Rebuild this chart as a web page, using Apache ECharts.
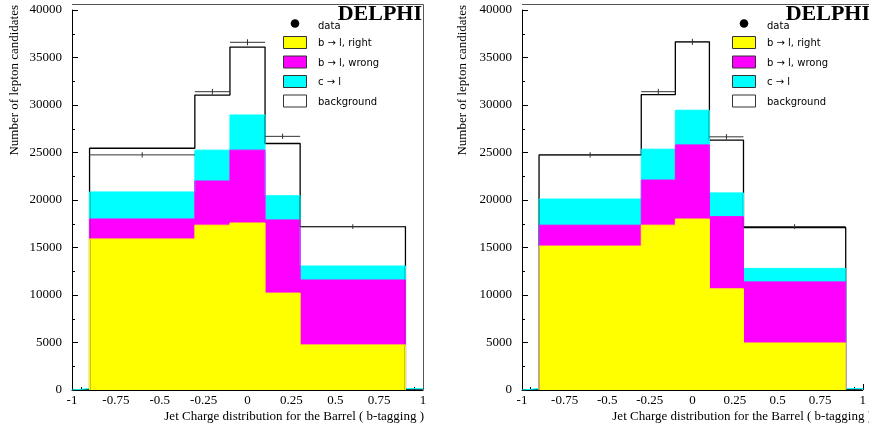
<!DOCTYPE html>
<html><head><meta charset="utf-8">
<script src="https://cdn.jsdelivr.net/npm/echarts@6/dist/echarts.min.js"></script>
<style>html,body{margin:0;padding:0;background:#fff}#c{width:869px;height:430px}</style>
</head><body><div id="c"></div>
<script>
// ---- data ----
const binEdges = [-1, -0.9, -0.3, -0.1, 0.1, 0.3, 0.9, 1];
const xTickLabels = ['-1','-0.75','-0.5','-0.25','0','0.25','0.5','0.75','1'];

// left panel (cumulative stack levels per bin)
const bgLeft      = [0,   25450, 31050, 36100, 25950, 17200, 0];
const cLeft       = [150, 20850, 25250, 28950, 20450, 13050, 150];
const bWrongLeft  = [null, 18000, 22000, 25250, 17900, 11580, null];
const bRightLeft  = [null, 15900, 17350, 17580, 10200, 4750,  null];
const dataLeft    = [null, 24750, 31400, 36600, 26700, 17200, null];
const errLeft     = [0, 280, 300, 320, 280, 250, 0];

// right panel
const bgRight     = [0,   24750, 31100, 36650, 26300, 17100, 0];
const cRight      = [150, 20100, 25350, 29450, 20750, 12800, 150];
const bWrongRight = [null, 17350, 22100, 25800, 18250, 11380, null];
const bRightRight = [null, 15150, 17350, 18000, 10650, 4950,  null];
const dataRight   = [null, 24750, 31400, 36650, 26650, 17200, null];
const errRight    = [0, 280, 300, 320, 280, 250, 0];

const legendLabels = ['data', 'b \u2192 l, right', 'b \u2192 l, wrong', 'c \u2192 l', 'background'];
const legendColors = ['#ffff00', '#ff00ff', '#00ffff', '#ffffff'];
const xTitle = 'Jet Charge distribution for the Barrel ( b-tagging )';
const yTitle = 'Number of lepton candidates';
const expName = 'DELPHI';

// ---- helpers ----
function stepOutline(vals) {
  const pts = vals.map((v, i) => [binEdges[i], v]);
  pts.push([binEdges[binEdges.length - 1], vals[vals.length - 1]]);
  return pts;
}
function stepFill(vals) {
  let f = 0, l = vals.length - 1;
  while (vals[f] == null) f++;
  while (vals[l] == null) l--;
  const pts = [[binEdges[f], 0]];
  for (let i = f; i <= l; i++) pts.push([binEdges[i], vals[i]]);
  pts.push([binEdges[l + 1], vals[l]]);
  pts.push([binEdges[l + 1], 0]);
  return pts;
}
function dataRows(vals, errs) {
  const rows = [];
  vals.forEach((v, i) => { if (v != null) rows.push([binEdges[i], binEdges[i + 1], v, errs[i]]); });
  return rows;
}
const serif = 'Liberation Serif, Times New Roman, serif';
const SERIES_COLORS = { yellow: '#ffff00', magenta: '#ff00ff', cyan: '#00ffff' };

const panels = [
  { left: 72,  textOff: 0,   bg: bgLeft,  c: cLeft,  w: bWrongLeft,  r: bRightLeft,  d: dataLeft,  e: errLeft },
  { left: 522, textOff: 448, bg: bgRight, c: cRight, w: bWrongRight, r: bRightRight, d: dataRight, e: errRight }
];
const GW = 351, GTOP = 10, GH = 380;

const grids = [], xAxes = [], yAxes = [], series = [], graphics = [];
panels.forEach((p, k) => {
  grids.push({ left: p.left, top: GTOP, width: GW, height: GH, containLabel: false });
  xAxes.push({
    type: 'value', gridIndex: k, min: -1, max: 1, interval: 0.25,
    axisLine: { show: true, onZero: false, lineStyle: { color: '#000', width: 1 } },
    axisTick: { show: true, inside: true, length: 6, lineStyle: { color: '#000' } },
    minorTick: { show: true, splitNumber: 5, length: 3, lineStyle: { color: '#000' } },
    splitLine: { show: false },
    axisLabel: { color: '#000', fontFamily: serif, fontSize: 13, margin: 4,
      formatter: (v) => { const i = Math.round((v + 1) / 0.25); return xTickLabels[i] || ''; } }
  });
  yAxes.push({
    type: 'value', gridIndex: k, min: 0, max: 40000, interval: 5000,
    axisLine: { show: true, onZero: false, lineStyle: { color: '#000', width: 1 } },
    axisTick: { show: true, inside: true, length: 6, lineStyle: { color: '#000' } },
    minorTick: { show: true, splitNumber: 2, length: 3, lineStyle: { color: '#000' } },
    splitLine: { show: false },
    axisLabel: { color: '#000', fontFamily: serif, fontSize: 13, margin: 10, formatter: (v) => String(v) }
  });
  const base = { type: 'line', step: 'end', xAxisIndex: k, yAxisIndex: k, symbol: 'none', silent: true, animation: false };
  series.push(Object.assign({}, base, { name: 'background' + k, data: stepOutline(p.bg),
    lineStyle: { color: '#000', width: 1.3 } }));
  [[p.c, SERIES_COLORS.cyan, 'c'], [p.w, SERIES_COLORS.magenta, 'wrong'], [p.r, SERIES_COLORS.yellow, 'right']].forEach(([vals, col, nm]) => {
    series.push(Object.assign({}, base, { name: nm + k, data: stepFill(vals),
      lineStyle: { width: 1, color: col }, areaStyle: { color: col, opacity: 1 } }));
  });
  series.push({
    type: 'custom', name: 'data' + k, xAxisIndex: k, yAxisIndex: k, silent: true, animation: false,
    data: dataRows(p.d, p.e), encode: { x: [0, 1], y: 2 }, z: 5,
    renderItem: (params, api) => {
      const x0 = api.value(0), x1 = api.value(1), v = api.value(2), e = api.value(3);
      const a = api.coord([x0, v]), b = api.coord([x1, v]);
      const xc = (x0 + x1) / 2;
      const c1 = api.coord([xc, v - e]), c2 = api.coord([xc, v + e]);
      return { type: 'group', children: [
        { type: 'line', shape: { x1: a[0], y1: a[1], x2: b[0], y2: b[1] }, style: { stroke: '#333', lineWidth: 1 } },
        { type: 'line', shape: { x1: c1[0], y1: c1[1], x2: c2[0], y2: c2[1] }, style: { stroke: '#333', lineWidth: 1 } }
      ] };
    }
  });

  // frame (top + right)
  const L = p.left, R = p.left + GW;
  graphics.push({ type: 'polyline', silent: true, z: 10,
    shape: { points: [[L, 4.5], [R + 0.5, 4.5], [R + 0.5, GTOP + GH]] },
    style: { stroke: '#555', lineWidth: 1, fill: null } });
  const o = p.textOff;
  // axis titles
  graphics.push({ type: 'text', silent: true, z: 10, x: 424 + o, y: 417,
    style: { text: xTitle, font: '13px ' + serif, fill: '#000', align: 'right', verticalAlign: 'middle', textAlign: 'right', textVerticalAlign: 'middle' } });
  graphics.push({ type: 'text', silent: true, z: 10, x: 15 + o, y: 5, rotation: Math.PI / 2,
    style: { text: yTitle, font: '13px ' + serif, fill: '#000', align: 'right', verticalAlign: 'middle', textAlign: 'right', textVerticalAlign: 'middle' } });
  // legend
  const lx = 283 + o + (k ? 1 : 0);
  graphics.push({ type: 'circle', silent: true, z: 10, shape: { cx: lx + 12, cy: 23.5, r: 4.3 }, style: { fill: '#000' } });
  graphics.push({ type: 'text', silent: true, z: 10, x: lx + 35, y: 26,
    style: { text: legendLabels[0], font: '10px DejaVu Sans, sans-serif', fill: '#000', align: 'left', verticalAlign: 'middle', textAlign: 'left', textVerticalAlign: 'middle' } });
  for (let j = 0; j < 4; j++) {
    const ty = 36 + j * 19.5;
    graphics.push({ type: 'rect', silent: true, z: 10, shape: { x: lx + 0.5, y: ty + 0.5, width: 23, height: 12 },
      style: { fill: legendColors[j], stroke: '#333', lineWidth: 1 } });
    graphics.push({ type: 'text', silent: true, z: 10, x: lx + 35, y: ty + 7.5,
      style: { text: legendLabels[j + 1], font: '10px DejaVu Sans, sans-serif', fill: '#000', align: 'left', verticalAlign: 'middle', textAlign: 'left', textVerticalAlign: 'middle' } });
  }
  // experiment label
  graphics.push({ type: 'text', silent: true, z: 11, x: 422 + o, y: 25,
    style: { text: expName, font: 'bold 22px ' + serif, fill: '#000', align: 'right', verticalAlign: 'bottom', textAlign: 'right', textVerticalAlign: 'bottom' } });
});

const chart = echarts.init(document.getElementById('c'), null, { renderer: 'canvas' });
chart.setOption({
  backgroundColor: '#fff',
  animation: false,
  grid: grids, xAxis: xAxes, yAxis: yAxes, series: series,
  graphic: { elements: graphics }
});
</script>
</body></html>
